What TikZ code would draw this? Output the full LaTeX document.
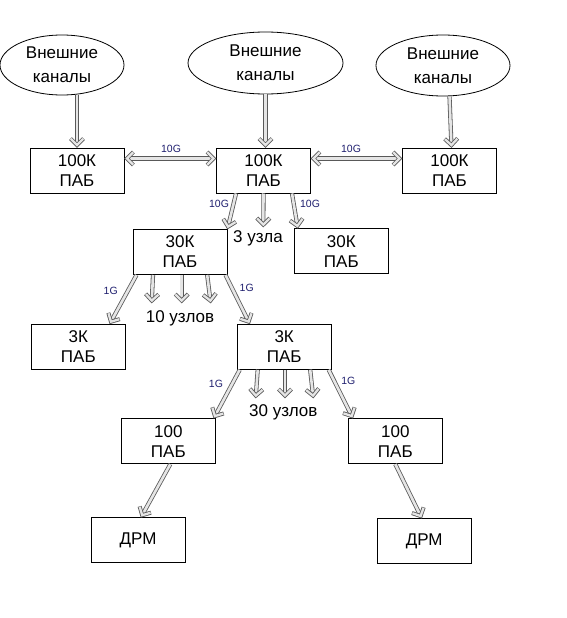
\documentclass[tikz,border=0pt]{standalone}
\usepackage{fontspec}
\setmainfont{Liberation Sans}
\usetikzlibrary{arrows.meta,shapes.geometric}
\definecolor{lblblue}{RGB}{30,30,110}
\pgfdeclarearrow{
  name=Chev,
  setup code={
    \pgfarrowssettipend{2.4pt}
    \pgfarrowssetlineend{-1pt}
    \pgfarrowssetbackend{-9pt}
    \pgfarrowssetvisualbackend{-6pt}
  },
  drawing code={
    \pgfsetmiterjoin
    \pgfsetbuttcap
    \pgfsetlinewidth{4pt}
    \pgfsetstrokecolor{black!65}
    \pgfpathmoveto{\pgfpoint{-6.5pt}{6.5pt}}
    \pgfpathlineto{\pgfpoint{0pt}{0pt}}
    \pgfpathlineto{\pgfpoint{-6.5pt}{-6.5pt}}
    \pgfusepathqstroke
    \pgfsetlinewidth{2.3pt}
    \pgfsetstrokecolor{black!10}
    \pgfpathmoveto{\pgfpoint{-6.2pt}{6.2pt}}
    \pgfpathlineto{\pgfpoint{0pt}{0pt}}
    \pgfpathlineto{\pgfpoint{-6.2pt}{-6.2pt}}
    \pgfusepathqstroke
  },
}
\begin{document}
\begin{tikzpicture}[x=1pt,y=-1pt,
  box/.style={draw,line width=1pt,minimum width=94pt,minimum height=45pt,inner sep=0pt,align=center,font=\fontsize{17}{20}\selectfont},
  ell/.style={draw,ellipse,line width=0.8pt,inner sep=0pt,align=center,font=\fontsize{17}{24}\selectfont},
  arr/.style={double,double distance=2.6pt,draw=black!65,double=black!10,line width=0.8pt,-{Chev}},
  darr/.style={arr,{Chev}-{Chev}},
  lbl/.style={font=\fontsize{10.5}{11}\selectfont,text=lblblue,inner sep=0pt},
  cnt/.style={font=\fontsize{17}{18}\selectfont,inner sep=0pt}]
\useasboundingbox (0,0) rectangle (566,618);
% ellipses
\node[ell,minimum width=124pt,minimum height=60pt] (el) at (62,65) {Внешние\\каналы};
\node[ell,minimum width=155pt,minimum height=62pt] (em) at (265.5,63) {Внешние\\каналы};
\node[ell,minimum width=134pt,minimum height=61pt] (er) at (443,65.5) {Внешние\\каналы};
% boxes
\node[box] (l) at (77,170.5) {100К\\ПАБ};
\node[box] (m) at (263.5,170.5) {100К\\ПАБ};
\node[box] (r) at (449.5,170.5) {100К\\ПАБ};
\node[box] (k30) at (180,252) {30К\\ПАБ};
\node[box] (k30r) at (341.3,251.3) {30К\\ПАБ};
\node[box] (k3l) at (78.3,346.8) {3К\\ПАБ};
\node[box] (k3m) at (284.2,346.8) {3К\\ПАБ};
\node[box] (h1) at (168.3,441.2) {100\\ПАБ};
\node[box] (h2) at (395.3,441.2) {100\\ПАБ};
\node[box] (d1) at (138,540.3) {ДРМ};
\node[box] (d2) at (424.2,541.2) {ДРМ};
% free ends
\coordinate (c1) at (263.3,227);
\coordinate (f1) at (151.7,303);
\coordinate (f2) at (181.7,303);
\coordinate (f3) at (210.7,303);
\coordinate (g1) at (255.7,398);
\coordinate (g2) at (285,398);
\coordinate (g3) at (313.3,398);
% ellipse to box
\draw[arr] (l.north |- el.south) -- (l.north);
\draw[arr] (em.south) -- (em.south |- m.north);
\draw[arr] (r.north |- er.south) -- ([xshift=2pt]r.north);
% horizontal links
\draw[darr] ([yshift=12pt]l.east) -- ([yshift=12pt]m.west);
\draw[darr] ([yshift=12pt]m.east) -- ([yshift=12pt]r.west);
% from m
\draw[arr] ([xshift=20pt]m.south west) -- (k30.north east);
\draw[arr] (m.south) -- (c1);
\draw[arr] ([xshift=-19pt]m.south east) -- ([xshift=4pt]k30r.north west);
% from k30
\draw[arr] ([xshift=4pt]k30.south west) -- ([xshift=-16pt]k3l.north east);
\draw[arr] ([xshift=20.5pt]k30.south west) -- (f1);
\draw[arr] ([xshift=1.7pt]k30.south) -- (f2);
\draw[arr] ([xshift=74.7pt]k30.south west) -- (f3);
\draw[arr] ([xshift=-2pt]k30.south east) -- ([xshift=13pt]k3m.north west);
% from k3m
\draw[arr] ([xshift=3pt]k3m.south west) -- ([xshift=-2pt]h1.north east);
\draw[arr] ([xshift=21pt]k3m.south west) -- (g1);
\draw[arr] ([xshift=0.8pt]k3m.south) -- (g2);
\draw[arr] ([xshift=73.5pt]k3m.south west) -- (g3);
\draw[arr] ([xshift=-3pt]k3m.south east) -- ([xshift=5pt]h2.north west);
% to DRM
\draw[arr] ([xshift=2pt]h1.south) -- ([xshift=3pt]d1.north);
\draw[arr] (h2.south) -- ([xshift=-2.5pt]d2.north);
% labels
\node[lbl] (t1) at (171,149) {10G};
\node[lbl] (t2) at (351,149) {10G};
\node[lbl] (t3) at (219,204) {10G};
\node[lbl] (t4) at (310,204) {10G};
\node[lbl] (t5) at (110.7,290.7) {1G};
\node[lbl] (t6) at (246.7,288.3) {1G};
\node[lbl] (t7) at (216,384.3) {1G};
\node[lbl] (t8) at (348.3,381) {1G};
\node[cnt] (n1) at (258,238.5) {3 узла};
\node[cnt] (n2) at (180,318.3) {10 узлов};
\node[cnt] (n3) at (283.3,412.7) {30 узлов};
\end{tikzpicture}
\end{document}
